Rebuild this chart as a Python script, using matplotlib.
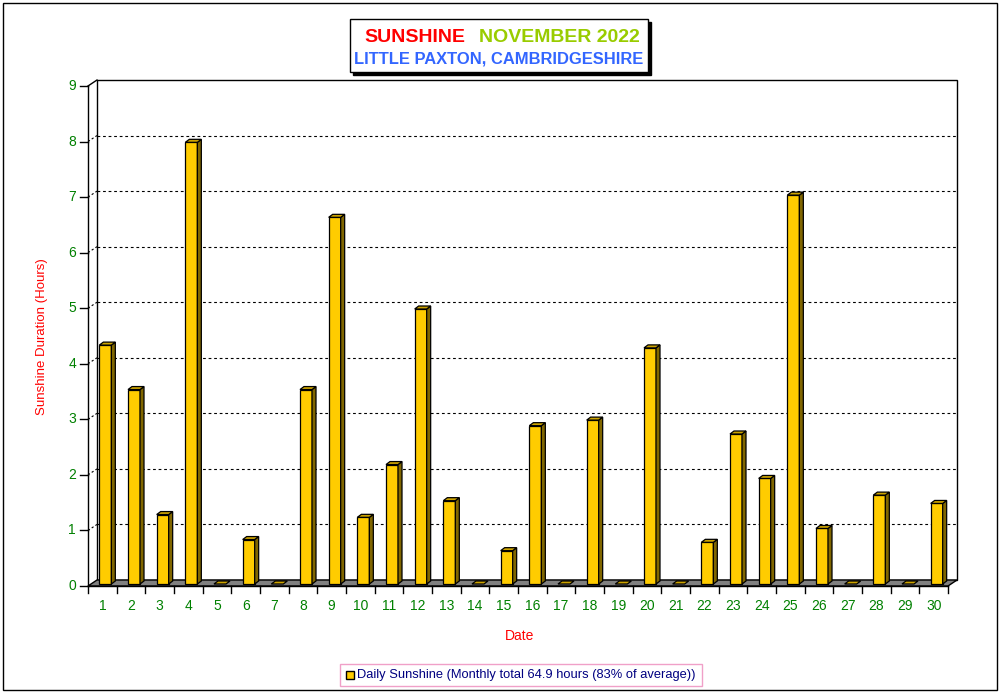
import numpy as np
import matplotlib.pyplot as plt
from matplotlib.patches import Rectangle, Polygon

# datos
dias = list(range(1, 31))
horas = [4.3, 3.5, 1.25, 7.95, 0.0, 0.8, 0.0, 3.5, 6.6, 1.2,
         2.15, 4.95, 1.5, 0.0, 0.6, 2.85, 0.0, 2.95, 0.0, 4.25,
         0.0, 0.75, 2.7, 1.9, 7.0, 1.0, 0.0, 1.6, 0.0, 1.45]
y_ticks = list(range(0, 10))
titulo1 = "SUNSHINE"
titulo2 = "NOVEMBER 2022"
subtitulo = "LITTLE PAXTON, CAMBRIDGESHIRE"
leyenda = "Daily Sunshine (Monthly total 64.9 hours (83% of average))"

W, H = 1001, 694
plt.rcParams['font.family'] = ['Liberation Sans', 'DejaVu Sans']

fig = plt.figure(figsize=(W / 100, H / 100), dpi=100)
fig.patch.set_facecolor("white")

def fx(px):
    return px / W

def fy(py):
    return 1 - py / H

# marco exterior
fig.patches.append(Rectangle((fx(3), fy(690)), fx(994), (687) / H, transform=fig.transFigure,
                             fill=False, edgecolor="black", lw=1))

# ejes principales (frente del grafico)
x0, x1, ybot, ytop = 88, 948, 586, 86
ax = fig.add_axes([fx(x0), fy(ybot), (x1 - x0) / W, (ybot - ytop) / H])
n = len(dias)
ymax = y_ticks[-1]
ax.set_xlim(0, n)
ax.set_ylim(0, ymax)
ax.axis("off")

PX = n / (x1 - x0)
PY = ymax / (ybot - ytop)
dxw, dyw = 9 * PX, 6 * PY

# pared del fondo
ax.add_patch(Rectangle((dxw, dyw), n, ymax, facecolor="white", edgecolor="black",
                       lw=1, clip_on=False, zorder=1))
# lineas de cuadricula
for k in y_ticks[1:-1]:
    ax.plot([dxw, n + dxw], [k + dyw, k + dyw], color="black", lw=0.8,
            linestyle=(0, (2.5, 2.5)), clip_on=False, zorder=2)
    ax.plot([0, dxw], [k, k + dyw], color="black", lw=0.8,
            linestyle=(0, (2, 2)), clip_on=False, zorder=2)
ax.plot([0, dxw], [ymax, ymax + dyw], color="black", lw=1, clip_on=False, zorder=2)

# suelo
ax.add_patch(Polygon([(0, 0), (n, 0), (n + dxw, dyw), (dxw, dyw)], closed=True,
                     facecolor="#808080", edgecolor="black", lw=1, clip_on=False, zorder=3))

# eje vertical y marcas
ax.plot([0, 0], [0, ymax], color="black", lw=1, clip_on=False, zorder=4)
for k in y_ticks:
    ax.plot([-8 * PX, 0], [k, k], color="black", lw=1, clip_on=False, zorder=4)
    ax.text(-12 * PX, k, str(k), ha="right", va="center", fontsize=10,
            color="#008000")
ax.plot([0, n], [0, 0], color="black", lw=1, clip_on=False, zorder=4)
for k in range(n + 1):
    ax.plot([k, k], [0, -7 * PY], color="black", lw=1, clip_on=False, zorder=4)

# barras 3D
ancho = 12 * PX
ddx, ddy = 4 * PX, 3 * PY
b0 = 2 * PY
for d, v in zip(dias, horas):
    c = d - 0.5
    l = c - 3 * PX
    r = l + ancho
    t = b0 + v
    if v > 0:
        ax.add_patch(Rectangle((l, b0), ancho, v, facecolor="#FFCC00", edgecolor="black",
                               lw=0.9, clip_on=False, zorder=6))
        ax.add_patch(Polygon([(r, b0), (r + ddx, b0 + ddy), (r + ddx, t + ddy), (r, t)],
                             closed=True, facecolor="#806600", edgecolor="black",
                             lw=0.9, clip_on=False, zorder=6))
    ax.add_patch(Polygon([(l, t), (r, t), (r + ddx, t + ddy), (l + ddx, t + ddy)],
                         closed=True, facecolor="#CCA300", edgecolor="black",
                         lw=0.9, clip_on=False, zorder=6))
    ax.text(c, -20 * PY, str(d), ha="center", va="center", fontsize=10,
            color="#008000")

# etiquetas de ejes
fig.text(fx(520), fy(636), "Date", ha="center", va="center", fontsize=10, color="#FF0000")
fig.text(fx(42), fy(337), "Sunshine Duration (Hours)", ha="center", va="center",
         rotation=90, fontsize=9.5, color="#FF0000")

# caja del titulo con sombra
fig.patches.append(Rectangle((fx(353), fy(75)), (298) / W, (53) / H, transform=fig.transFigure,
                             facecolor="black", edgecolor="black", lw=1, zorder=1))
fig.patches.append(Rectangle((fx(350), fy(72)), (298) / W, (53) / H, transform=fig.transFigure,
                             facecolor="white", edgecolor="black", lw=1, zorder=2))
fig.text(fx(364), fy(37), titulo1, ha="left", va="center", fontsize=14,
         fontweight="bold", color="#FF0000", zorder=3)
fig.text(fx(640), fy(37), titulo2, ha="right", va="center", fontsize=14,
         fontweight="bold", color="#99CC00", zorder=3)
fig.text(fx(499), fy(59), subtitulo, ha="center", va="center", fontsize=11.9,
         fontweight="bold", color="#3366FF", zorder=3)

# leyenda
fig.patches.append(Rectangle((fx(340), fy(686)), (362) / W, (22) / H, transform=fig.transFigure,
                             facecolor="white", edgecolor="#F0A0C8", lw=1))
fig.patches.append(Rectangle((fx(346), fy(679)), (8) / W, (8) / H, transform=fig.transFigure,
                             facecolor="#FFCC00", edgecolor="black", lw=1))
fig.text(fx(357), fy(675), leyenda, ha="left", va="center", fontsize=9.3, color="#000080")

fig.savefig("out.png", dpi=100)
